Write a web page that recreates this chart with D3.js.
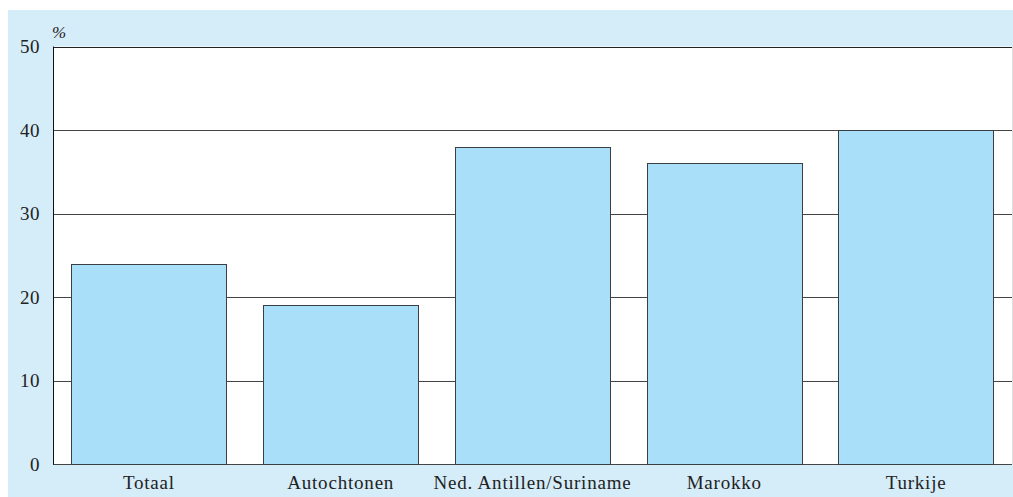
<!DOCTYPE html>
<html><head><meta charset="utf-8">
<script src="https://cdn.jsdelivr.net/npm/d3@7"></script>
<style>html,body{margin:0;padding:0;background:#fff;}svg{display:block;} text{font-family:"Liberation Serif", "DejaVu Serif", serif;}</style>
</head><body>
<svg id="c" width="1013" height="497"></svg>
<script>
const categories = ["Totaal", "Autochtonen", "Ned. Antillen/Suriname", "Marokko", "Turkije"];
const values = [24, 19, 38, 36, 40];
const yTicks = [0, 10, 20, 30, 40, 50];
const unitLabel = "%";

const svg = d3.select("#c");
const m = {left: 53, right: 1012, top: 46.5, bottom: 464};

svg.append("rect").attr("x", 8).attr("y", 10).attr("width", 1005).attr("height", 487).attr("fill", "#d5ecf9");
svg.append("rect").attr("x", m.left).attr("y", m.top).attr("width", m.right - m.left).attr("height", m.bottom - m.top).attr("fill", "#fff");

const x = d3.scaleBand().domain(categories).range([m.left, m.right]).paddingInner(0.19).paddingOuter(0.095);
const y = d3.scaleLinear().domain([0, 50]).range([m.bottom, m.top]);

svg.append("g").selectAll("line").data(yTicks).join("line")
  .attr("x1", m.left).attr("x2", m.right)
  .attr("y1", d => Math.round(y(d)) + 0.5).attr("y2", d => Math.round(y(d)) + 0.5)
  .attr("stroke", d => d === 50 ? "#222" : "#444").attr("stroke-width", 1);

svg.append("line").attr("x1", m.right + 0.5).attr("x2", m.right + 0.5).attr("y1", m.top).attr("y2", m.bottom).attr("stroke", "#ddd");

svg.append("g").selectAll("rect").data(values).join("rect")
  .attr("x", (d, i) => Math.round(x(categories[i])) + 0.5)
  .attr("y", d => Math.round(y(d)) + 0.5)
  .attr("width", Math.round(x.bandwidth()))
  .attr("height", d => Math.round(y(0)) - Math.round(y(d)))
  .attr("fill", "#aadff9").attr("stroke", "#3a3f44").attr("stroke-width", 1);

svg.append("line").attr("x1", m.left + 0.5).attr("x2", m.left + 0.5).attr("y1", m.top).attr("y2", m.bottom + 0.5).attr("stroke", "#111");

svg.append("g").selectAll("text").data(yTicks).join("text")
  .attr("x", 40).attr("y", d => y(d) + 6.5)
  .attr("text-anchor", "end").attr("font-size", 19).attr("letter-spacing", 0.5).attr("fill", "#222")
  .text(d => d);

svg.append("text").attr("x", 52).attr("y", 38).attr("font-size", 17).attr("font-style", "italic").attr("fill", "#222").text(unitLabel);

svg.append("g").selectAll("text").data(categories).join("text")
  .attr("x", d => x(d) + x.bandwidth() / 2).attr("y", 489)
  .attr("text-anchor", "middle").attr("font-size", 19).attr("letter-spacing", 0.8).attr("fill", "#222")
  .text(d => d);
</script>
</body></html>
